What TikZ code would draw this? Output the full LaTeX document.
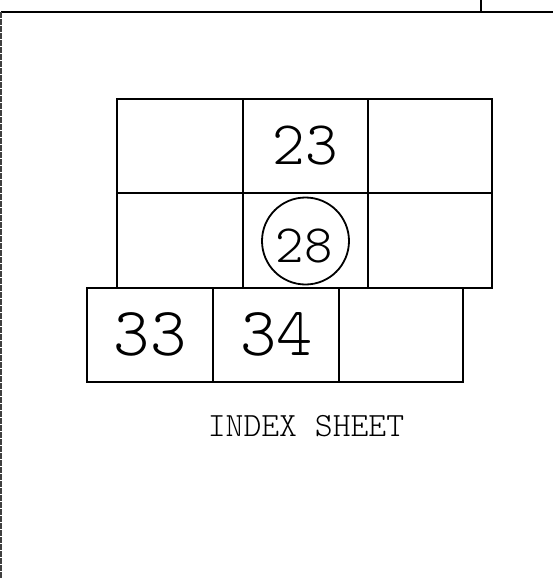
\documentclass[tikz,border=0pt]{standalone}
\usepackage{fontspec}
\newfontfamily\plotfont{Latin Modern Mono Light}
\begin{document}
\begin{tikzpicture}[x=1pt,y=-1pt,
  frameline/.style={line width=2.4pt},
  cell/.style={draw,line width=2pt,inner sep=0pt,rectangle},
  digits/.style={inner sep=0pt,font=\plotfont\fontsize{#1}{#1}\selectfont},
  caption/.style={inner sep=0pt,font=\plotfont\fontsize{34}{34}\selectfont}]
\useasboundingbox (0,0) rectangle (553,579);
% frame
\coordinate (tl) at (1,12);
\coordinate (tr) at (553,12);
\coordinate (bl) at (1,579);
\coordinate (tickT) at (481,0);
\coordinate (tickB) at (481,12);
\draw[frameline] (tl) -- (tr);
\draw[line width=1.4pt,black!75,dash pattern=on 6pt off 1pt] (tl) -- (bl);
\draw[frameline] (tickT) -- (tickB);
% upper two rows
\node[cell,minimum width=126.2,minimum height=93.4] (r1c1) at (179.6,146) {};
\node[cell,minimum width=125,minimum height=93.4] (r1c2) at (305.2,146) {};
\node[cell,minimum width=124.3,minimum height=93.4] (r1c3) at (429.85,146) {};
\node[cell,minimum width=126.2,minimum height=95.3] (r2c1) at (179.6,240.35) {};
\node[cell,minimum width=125,minimum height=95.3] (r2c2) at (305.2,240.35) {};
\node[cell,minimum width=124.3,minimum height=95.3] (r2c3) at (429.85,240.35) {};
% lower row (shifted left)
\node[cell,minimum width=125.7,minimum height=93.7] (r3c1) at (149.85,334.85) {};
\node[cell,minimum width=126.3,minimum height=93.7] (r3c2) at (275.85,334.85) {};
\node[cell,minimum width=124.3,minimum height=93.7] (r3c3) at (401.15,334.85) {};
% labels
\node[digits=62] (t23) at (305.5,146) {23};
\node[draw,circle,line width=1.8pt,minimum size=87,inner sep=0pt] (c28) at (305.5,241) {};
\node[digits=54] (t28) at (304,245.5) {28};
\node[digits=69] (t33) at (150,334) {33};
\node[digits=69] (t34) at (276.5,334) {34};
\node[caption] (title) at (306,426) {INDEX SHEET};
\end{tikzpicture}
\end{document}
